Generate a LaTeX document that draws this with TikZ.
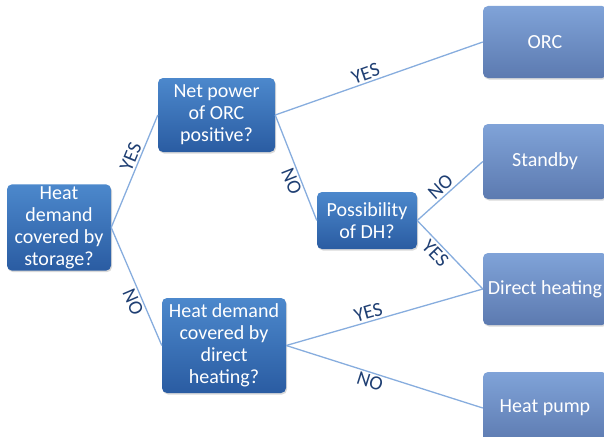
\documentclass[tikz,border=0pt]{standalone}
\usepackage{fontspec}
\setmainfont{Carlito}
\usetikzlibrary{positioning,shadows}

\definecolor{qtop}{RGB}{76,136,204}
\definecolor{qbot}{RGB}{42,92,162}
\definecolor{otop}{RGB}{128,163,216}
\definecolor{obot}{RGB}{92,122,176}
\definecolor{linkblue}{RGB}{135,173,222}
\definecolor{ansblue}{RGB}{31,63,115}

\begin{document}
\begin{tikzpicture}[
            x=1pt, y=-1pt,
            question/.style={rectangle, rounded corners=5pt, top color=qtop, bottom color=qbot, text=white, align=center, inner sep=2pt, font=\fontsize{20}{22}\selectfont, drop shadow={shadow xshift=1pt, shadow yshift=-1.5pt, opacity=0.3}},
            outcome/.style={rectangle, rounded corners=5pt, top color=otop, bottom color=obot, text=white, align=center, minimum width=124pt, minimum height=72pt, font=\fontsize{20}{22}\selectfont, drop shadow={shadow xshift=1pt, shadow yshift=-1.5pt, opacity=0.3}},
            link/.style={draw=linkblue, line width=1.3pt},
            answer/.style={sloped, text=ansblue, inner sep=2pt, font=\fontsize{20}{22}\selectfont}
        ]
        \clip (0,0) rectangle (604,436);
        \node[question, minimum width=104pt, minimum height=85pt] (storage) at (59,227.5) {Heat\\demand\\covered by\\storage?};
        \node[question, minimum width=117pt, minimum height=74pt] (orcpos) at (216.5,115) {Net power\\of ORC\\positive?};
        \node[question, minimum width=100pt, minimum height=57pt] (dhposs) at (367,220.5) {Possibility\\of DH?};
        \node[question, minimum width=124pt, minimum height=95pt] (dhcover) at (224,345.5) {Heat demand\\covered by\\direct\\heating?};
        \node[outcome] (orc) at (545,42) {ORC};
        \node[outcome, minimum height=75pt] (standby) at (545,161.5) {Standby};
        \node[outcome] (direct) at (545,289) {Direct heating};
        \node[outcome] (pump) at (545,408) {Heat pump};
        \draw[link] (storage.east) -- node[answer, above, pos=0.6] {YES} (orcpos.west);
        \draw[link] (storage.east) -- node[answer, below, pos=0.6] {NO} (dhcover.west);
        \draw[link] (orcpos.east) -- node[answer, above, pos=0.45] {YES} (orc.west);
        \draw[link] (orcpos.east) -- node[answer, below, pos=0.6] {NO} (dhposs.west);
        \draw[link] (dhposs.east) -- node[answer, above, pos=0.45] {NO} (standby.west);
        \draw[link] (dhposs.east) -- node[answer, below, pos=0.38] {YES} (direct.west);
        \draw[link] (dhcover.east) -- node[answer, above, pos=0.43] {YES} (direct.west);
        \draw[link] (dhcover.east) -- node[answer, below, pos=0.44] {NO} (pump.west);
        \end{tikzpicture}
\end{document}
